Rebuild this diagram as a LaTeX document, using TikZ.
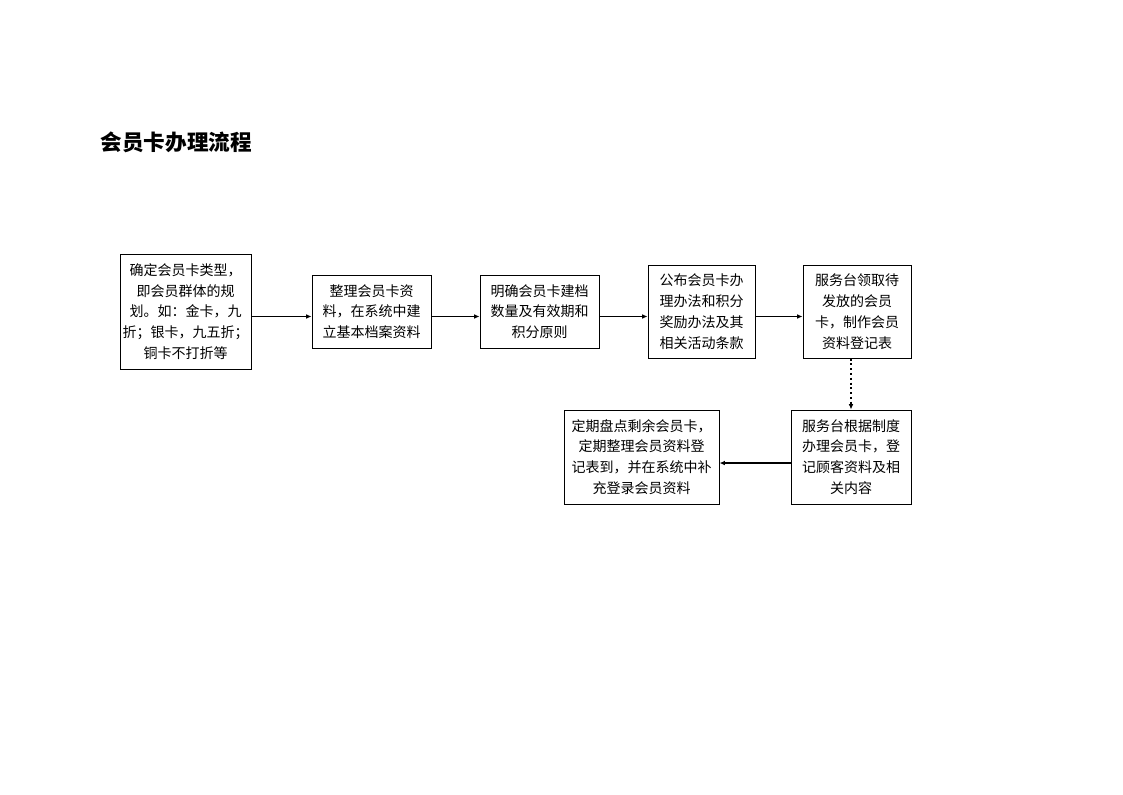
\documentclass[tikz,border=0pt]{standalone}
\usepackage{fontspec}
\newfontfamily\cjk{Noto Sans CJK SC}
\usetikzlibrary{arrows.meta}
\begin{document}
\begin{tikzpicture}[x=0.75pt,y=-0.75pt,
  box/.style={draw=black,line width=0.75pt,align=center,inner sep=0pt,
    font=\cjk\fontsize{10.5}{15.6}\selectfont},
  conn/.style={line width=0.75pt,-{Latex[length=4pt,width=3.5pt]}},
  dots/.style={line width=1.6pt,dotted,-{Latex[length=4pt,width=3.5pt]}},
  thick conn/.style={line width=1.6pt,-{Latex[length=4pt,width=3.5pt]}}]
\useasboundingbox (0,0) rectangle (1123,794);
\node[anchor=west,font=\cjk\bfseries\fontsize{16.2}{19}\selectfont] (title) at (96,142) {会员卡办理流程};
\node[box,minimum width={131*0.75pt},minimum height={115*0.75pt}] (b1) at (185.5,311.5)
  {确定会员卡类型，\\即会员群体的规\\划。如：金卡，九\\折；银卡，九五折；\\铜卡不打折等};
\node[box,minimum width={119*0.75pt},minimum height={73*0.75pt}] (b2) at (371.5,311.5)
  {整理会员卡资\\料，在系统中建\\立基本档案资料};
\node[box,minimum width={119*0.75pt},minimum height={73*0.75pt}] (b3) at (539.5,311.5)
  {明确会员卡建档\\数量及有效期和\\积分原则};
\node[box,minimum width={107*0.75pt},minimum height={93*0.75pt}] (b4) at (701.5,311.5)
  {公布会员卡办\\理办法和积分\\奖励办法及其\\相关活动条款};
\node[box,minimum width={108*0.75pt},minimum height={93*0.75pt}] (b5) at (857,311.5)
  {服务台领取待\\发放的会员\\卡，制作会员\\资料登记表};
\node[box,minimum width={120*0.75pt},minimum height={94*0.75pt}] (b6) at (851,457)
  {服务台根据制度\\办理会员卡，登\\记顾客资料及相\\关内容};
\node[box,minimum width={155*0.75pt},minimum height={94*0.75pt}] (b7) at (641.5,457)
  {定期盘点剩余会员卡，\\定期整理会员资料登\\记表到，并在系统中补\\充登录会员资料};
\draw[conn] ([yshift=-3.75pt]b1.east) -- ([yshift=-3.75pt]b2.west);
\draw[conn] ([yshift=-3.75pt]b2.east) -- ([yshift=-3.75pt]b3.west);
\draw[conn] ([yshift=-3.75pt]b3.east) -- ([yshift=-3.75pt]b4.west);
\draw[conn] ([yshift=-3.75pt]b4.east) -- ([yshift=-3.75pt]b5.west);
\draw[dots] (b6.north |- b5.south) -- (b6.north);
\draw[thick conn] ([yshift=-4.5pt]b6.west) -- ([yshift=-4.5pt]b7.east);
\end{tikzpicture}
\end{document}
